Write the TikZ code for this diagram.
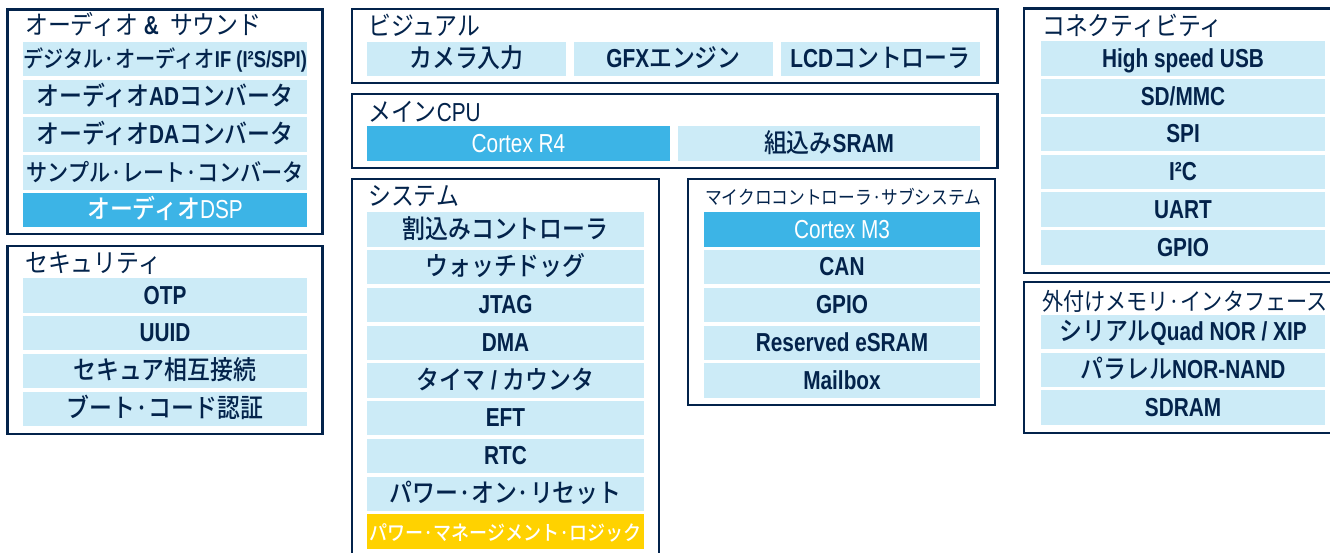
\documentclass[tikz,border=0pt]{standalone}
\usepackage{fontspec}
\setmainfont{Noto Sans CJK JP}[FakeStretch=0.88]
\newfontfamily\jpmed{Noto Sans CJK JP Medium}[FakeStretch=0.88]
\newfontfamily\latin{Liberation Sans}[FakeStretch=0.8]
\usepackage{xcolor}
\usetikzlibrary{positioning}

\definecolor{stnavy}{HTML}{03234B}
\definecolor{stpale}{HTML}{CCEBF7}
\definecolor{stcyan}{HTML}{3CB4E6}
\definecolor{styellow}{HTML}{FFD200}

\newcommand{\en}[1]{{\latin\bfseries #1}}
\newcommand{\lr}[1]{{\latin #1}}
\newcommand{\fs}[1]{\fontsize{#1}{#1}\selectfont}

\begin{document}
\begin{tikzpicture}[x=1pt, y=-1pt,
  node distance=3.35pt and 8pt,
  grp/.style={draw=stnavy, line width=2.8pt},
  head/.style={anchor=base west, inner sep=0pt, text=stnavy, font=\fs{26}},
  part/.style={rectangle, fill=stpale, inner sep=0pt, outer sep=0pt,
               minimum width=284pt, minimum height=34.4pt,
               text height=18pt, text depth=0.8pt,
               text=stnavy, font=\jpmed\fs{26}},
  core/.style={part, fill=stcyan, text=white},
  pwr/.style={part, fill=styellow, text=white},
]
  \path[use as bounding box, fill=white] (0,0) rectangle (1330,553);

  % audio & sound
  \draw[grp] (7.5,9.5) rectangle (322.5,234);
  \node[head] (audio) at (25,34.5) {オーディオ\hspace{6pt}\en{\&}\hspace{11pt}サウンド};
  \node[part, font=\jpmed\fs{23}] (i2s) at (165,59.2) {デジタル·オーディオ\en{IF (I²S/SPI)}};
  \node[part, below=of i2s] (adc) {オーディオ\en{AD}コンバータ};
  \node[part, below=of adc] (dac) {オーディオ\en{DA}コンバータ};
  \node[part, below=of dac, font=\jpmed\fs{24}] (srconv) {サンプル·レート·コンバータ};
  \node[core, below=of srconv] (adsp) {オーディオ\lr{DSP}};

  % security
  \draw[grp] (7.5,246) rectangle (322.5,434);
  \node[head] (secu) at (25,272.5) {セキュリティ};
  \node[part] (otp) at (165,295.5) {\en{OTP}};
  \node[part, below=of otp] (uuid) {\en{UUID}};
  \node[part, below=of uuid] (secic) {セキュア相互接続};
  \node[part, below=of secic] (boot) {ブート·コード認証};

  % visual
  \draw[grp] (352,9) rectangle (997.5,83);
  \node[head] (visual) at (368,35.5) {ビジュアル};
  \node[part, minimum width=199pt] (cam) at (466.5,59.2) {カメラ入力};
  \node[part, minimum width=199pt, right=of cam] (gfx) {\en{GFX}エンジン};
  \node[part, minimum width=199pt, right=of gfx] (lcd) {\en{LCD}コントローラ};

  % main cpu
  \draw[grp] (352,94) rectangle (997.5,168);
  \node[head] (cpu) at (368,121.5) {メイン\lr{CPU}};
  \node[core, minimum width=303pt] (r4) at (518.5,143.5) {\lr{Cortex R4}};
  \node[part, minimum width=302pt, right=of r4] (sram) {組込み\en{SRAM}};

  % system
  \draw[grp] (352,179) rectangle (659,570);
  \node[head] (sys) at (368,205.5) {システム};
  \node[part, minimum width=277pt] (irq) at (505.5,229.5) {割込みコントローラ};
  \node[part, minimum width=277pt, below=of irq] (wdog) {ウォッチドッグ};
  \node[part, minimum width=277pt, below=of wdog] (jtag) {\en{JTAG}};
  \node[part, minimum width=277pt, below=of jtag] (dma) {\en{DMA}};
  \node[part, minimum width=277pt, below=of dma] (tmr) {タイマ\en{ / }カウンタ};
  \node[part, minimum width=277pt, below=of tmr] (eft) {\en{EFT}};
  \node[part, minimum width=277pt, below=of eft] (rtc) {\en{RTC}};
  \node[part, minimum width=277pt, below=of rtc] (por) {パワー·オン·リセット};
  \node[pwr, minimum width=277pt, below=of por, font=\jpmed\fs{20.5}] (pml) {パワー·マネージメント·ロジック};

  % mcu subsystem
  \draw[grp] (688,179) rectangle (995,405);
  \node[head, font=\fs{19}] (mcu) at (705,204.5) {マイクロコントローラ·サブシステム};
  \node[core, minimum width=276pt] (m3) at (842,229.5) {\lr{Cortex M3}};
  \node[part, minimum width=276pt, below=of m3] (can) {\en{CAN}};
  \node[part, minimum width=276pt, below=of can] (mgpio) {\en{GPIO}};
  \node[part, minimum width=276pt, below=of mgpio] (esram) {\en{Reserved eSRAM}};
  \node[part, minimum width=276pt, below=of esram] (mbox) {\en{Mailbox}};

  % connectivity
  \draw[grp] (1024,8.5) rectangle (1340,273);
  \node[head] (conn) at (1042,35.5) {コネクティビティ};
  \node[part] (usb) at (1183,58.7) {\en{High speed USB}};
  \node[part, below=of usb] (sdmmc) {\en{SD/MMC}};
  \node[part, below=of sdmmc] (spi) {\en{SPI}};
  \node[part, below=of spi] (i2c) {\en{I²C}};
  \node[part, below=of i2c] (uart) {\en{UART}};
  \node[part, below=of uart] (gpio) {\en{GPIO}};

  % external memory
  \draw[grp] (1024,282) rectangle (1340,433);
  \node[head, font=\fs{24}] (xmem) at (1042,310.5) {外付けメモリ·インタフェース};
  \node[part] (qspi) at (1183,332) {シリアル\en{Quad NOR / XIP}};
  \node[part, below=of qspi] (pnor) {パラレル\en{NOR-NAND}};
  \node[part, below=of pnor] (sdram) {\en{SDRAM}};
\end{tikzpicture}
\end{document}
